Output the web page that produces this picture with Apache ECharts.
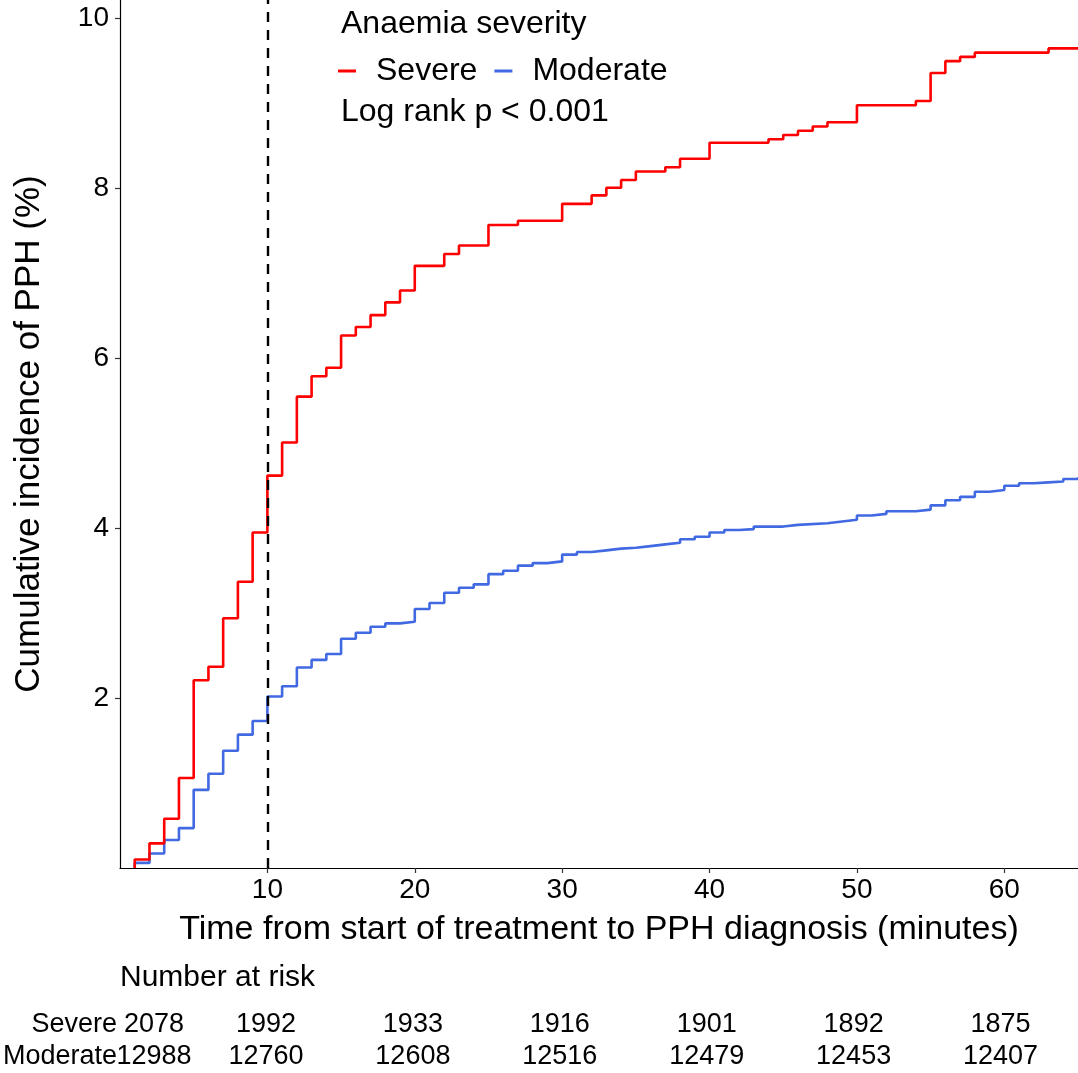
<!DOCTYPE html>
<html>
<head>
<meta charset="utf-8">
<script src="https://cdn.jsdelivr.net/npm/echarts@6/dist/echarts.min.js"></script>
<style>
  html, body { margin: 0; padding: 0; background: #fff; }
  #chart { width: 1078px; height: 1073px; }
</style>
</head>
<body>
<div id="chart"></div>
<script>
// step times (minutes) and cumulative incidence (%)
const severeTimes = [1, 2, 3, 4, 5, 6, 7, 8, 9, 10, 11, 12, 13, 14, 15, 16, 17, 18, 19, 20,
  22, 23, 25, 27, 30, 32, 33, 34, 35, 37, 38, 40, 44, 45, 46, 47, 48, 50, 54, 55, 56, 57, 58, 63, 65];
const severeValues = [0.10, 0.29, 0.58, 1.06, 2.21, 2.37, 2.94, 3.37, 3.95, 4.62, 5.01, 5.55, 5.79, 5.89, 6.27, 6.37, 6.51, 6.66, 6.80, 7.09,
  7.23, 7.33, 7.57, 7.62, 7.82, 7.92, 8.01, 8.10, 8.20, 8.25, 8.35, 8.54, 8.58, 8.63, 8.68, 8.73, 8.78, 8.98, 9.03, 9.36, 9.50, 9.55, 9.60, 9.65, 9.65];

const moderateTimes = [1, 2, 3, 4, 5, 6, 7, 8, 9, 10, 11, 12, 13, 14, 15, 16, 17, 18, 19, 20,
  21, 22, 23, 24, 25, 26, 27, 28, 29, 30, 31, 32, 33, 34, 35, 36, 37, 38, 39, 40,
  41, 42, 43, 45, 46, 48, 49, 50, 51, 52, 54, 55, 56, 57, 58, 59, 60, 61, 62, 63, 64, 65];
const moderateValues = [0.06, 0.17, 0.33, 0.47, 0.92, 1.11, 1.38, 1.57, 1.73, 2.02, 2.14, 2.36, 2.45, 2.52, 2.70, 2.77, 2.84, 2.88, 2.90, 3.05,
  3.12, 3.24, 3.30, 3.34, 3.46, 3.50, 3.56, 3.59, 3.61, 3.69, 3.72, 3.74, 3.76, 3.77, 3.79, 3.81, 3.83, 3.87, 3.90, 3.95,
  3.98, 3.99, 4.02, 4.04, 4.06, 4.08, 4.10, 4.15, 4.17, 4.20, 4.22, 4.27, 4.33, 4.37, 4.43, 4.45, 4.50, 4.53, 4.54, 4.55, 4.58, 4.60];

const yTicks = [2, 4, 6, 8, 10];
const xTicks = [10, 20, 30, 40, 50, 60];

// number at risk table
const riskTimes = [0, 10, 20, 30, 40, 50, 60];
const riskGroups = ['Severe', 'Moderate'];
const riskSevere = [2078, 1992, 1933, 1916, 1901, 1892, 1875];
const riskModerate = [12988, 12760, 12608, 12516, 12479, 12453, 12407];

const FONT = '"Liberation Sans", Arial, Helvetica, sans-serif';

const stepData = (times, values) => {
    const pts = [[times[0], 0]];
    times.forEach((t, i) => pts.push([t, values[i]]));
    return pts;
};

// first column sits a bit right of t = 0 in the original table
const riskData = (group, counts) => counts.map((n, i) => ({
    value: [riskTimes[i], group, n],
    label: { offset: [i === 0 ? 31 : -4, 0] }
}));

const riskLabel = {
    show: true, position: 'inside', fontSize: 27, color: '#000', fontFamily: FONT,
    formatter: (p) => String(p.value[2])
};

const chart = echarts.init(document.getElementById('chart'), null, { renderer: 'canvas' });

const option = {
    backgroundColor: '#ffffff',
    animation: false,
    textStyle: { fontFamily: FONT },
    grid: [
        { left: 120, right: 0, top: 0, bottom: 205, containLabel: false },
        { left: 120, right: 0, top: 1009, height: 64, containLabel: false }
    ],
    xAxis: [
        {
            type: 'value', gridIndex: 0, min: 0, max: 65,
            name: 'Time from start of treatment to PPH diagnosis (minutes)',
            nameLocation: 'middle', nameGap: 45,
            nameTextStyle: { fontSize: 34, color: '#000', fontFamily: FONT },
            splitLine: { show: false },
            axisLine: { show: true, onZero: false, lineStyle: { color: '#000', width: 1.2 } },
            axisTick: { show: true, length: 5, customValues: xTicks, lineStyle: { color: '#333', width: 1.2 } },
            axisLabel: { customValues: xTicks, fontSize: 28, color: '#000', margin: 8, fontFamily: FONT }
        },
        {
            type: 'value', gridIndex: 1, min: 0, max: 65, show: false
        }
    ],
    yAxis: [
        {
            type: 'value', gridIndex: 0, min: 0, max: 10.22,
            name: 'Cumulative incidence of PPH (%)',
            nameLocation: 'middle', nameGap: 73,
            nameTextStyle: { fontSize: 35, color: '#000', fontFamily: FONT },
            splitLine: { show: false },
            axisLine: { show: true, onZero: false, lineStyle: { color: '#000', width: 1.2 } },
            axisTick: { show: true, length: 5, customValues: yTicks, lineStyle: { color: '#333', width: 1.2 } },
            axisLabel: { customValues: yTicks, fontSize: 28, color: '#000', margin: 11, fontFamily: FONT }
        },
        {
            type: 'category', gridIndex: 1, data: riskGroups, inverse: true,
            axisLine: { show: false }, axisTick: { show: false }, splitLine: { show: false },
            axisLabel: { interval: 0, fontSize: 27, color: '#000', margin: 6, fontFamily: FONT }
        }
    ],
    legend: {
        left: 333, top: 50,
        icon: 'rect', itemWidth: 18, itemHeight: 3, itemGap: 17,
        textStyle: { fontSize: 32, color: '#000', fontFamily: FONT, padding: [0, 0, 0, 15] },
        data: ['Severe', 'Moderate']
    },
    graphic: [
        {
            type: 'text', left: 341, top: 8,
            style: { text: 'Anaemia severity', font: '32px ' + FONT, fill: '#000' }
        },
        {
            type: 'text', left: 341, top: 96,
            style: { text: 'Log rank p < 0.001', font: '32px ' + FONT, fill: '#000' }
        },
        {
            type: 'text', left: 120, top: 963,
            style: { text: 'Number at risk', font: '30px ' + FONT, fill: '#000' }
        }
    ],
    series: [
        {
            name: 'Severe', type: 'line', step: 'end',
            xAxisIndex: 0, yAxisIndex: 0,
            data: stepData(severeTimes, severeValues),
            showSymbol: false, symbol: 'none',
            lineStyle: { color: '#ff0000', width: 2.6 },
            itemStyle: { color: '#ff0000' },
            z: 3,
            markLine: {
                silent: true, symbol: 'none',
                label: { show: false },
                lineStyle: { color: '#000', type: [10, 8], width: 2.4 },
                data: [{ xAxis: 10 }]
            }
        },
        {
            name: 'Moderate', type: 'line', step: 'end',
            xAxisIndex: 0, yAxisIndex: 0,
            data: stepData(moderateTimes, moderateValues),
            showSymbol: false, symbol: 'none',
            lineStyle: { color: '#4169e1', width: 2.6 },
            itemStyle: { color: '#4169e1' },
            z: 2
        },
        {
            name: 'riskSevere', type: 'scatter', xAxisIndex: 1, yAxisIndex: 1,
            symbolSize: 0, silent: true, itemStyle: { opacity: 1 },
            data: riskData('Severe', riskSevere),
            label: riskLabel
        },
        {
            name: 'riskModerate', type: 'scatter', xAxisIndex: 1, yAxisIndex: 1,
            symbolSize: 0, silent: true, itemStyle: { opacity: 1 },
            data: riskData('Moderate', riskModerate),
            label: riskLabel
        }
    ]
};

chart.setOption(option);
</script>
</body>
</html>
